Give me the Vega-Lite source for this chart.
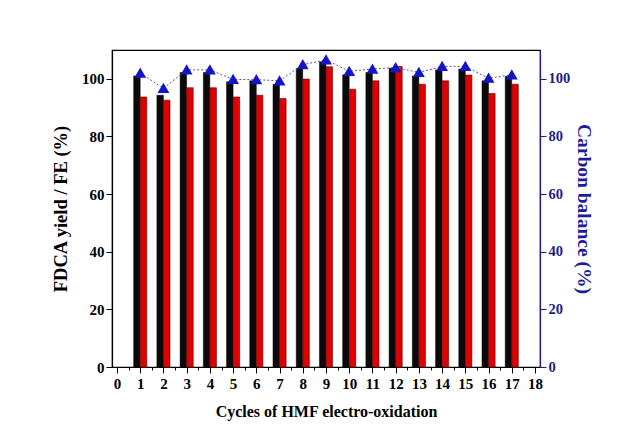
{
  "$schema": "https://vega.github.io/schema/vega-lite/v6.json",
  "width": 428,
  "height": 317,
  "autosize": {"type": "none"},
  "padding": {"left": 112, "top": 50, "right": 84, "bottom": 73},
  "background": "white",
  "config": {
    "view": {"stroke": "black", "strokeWidth": 1.2},
    "font": "Liberation Serif",
    "axis": {"labelFont": "Liberation Serif", "titleFont": "Liberation Serif", "labelFontWeight": "bold", "titleFontWeight": "bold", "labelFontSize": 15, "titleFontSize": 16, "grid": false, "domainWidth": 1.2, "tickWidth": 1}
  },
  "data": {"values": [
    {"cycle": 1, "yield": 101.0, "fe": 93.7, "cb": 102.0},
    {"cycle": 2, "yield": 94.3, "fe": 92.6, "cb": 96.7},
    {"cycle": 3, "yield": 102.2, "fe": 96.9, "cb": 103.1},
    {"cycle": 4, "yield": 102.2, "fe": 96.9, "cb": 103.1},
    {"cycle": 5, "yield": 99.0, "fe": 93.7, "cb": 99.8},
    {"cycle": 6, "yield": 99.3, "fe": 94.3, "cb": 99.7},
    {"cycle": 7, "yield": 98.1, "fe": 93.2, "cb": 99.3},
    {"cycle": 8, "yield": 103.6, "fe": 99.9, "cb": 104.9},
    {"cycle": 9, "yield": 105.9, "fe": 104.2, "cb": 106.6},
    {"cycle": 10, "yield": 101.4, "fe": 96.4, "cb": 102.6},
    {"cycle": 11, "yield": 102.2, "fe": 99.3, "cb": 103.4},
    {"cycle": 12, "yield": 103.7, "fe": 104.3, "cb": 103.9},
    {"cycle": 13, "yield": 101.0, "fe": 98.1, "cb": 102.2},
    {"cycle": 14, "yield": 103.1, "fe": 99.3, "cb": 104.3},
    {"cycle": 15, "yield": 103.4, "fe": 101.3, "cb": 104.3},
    {"cycle": 16, "yield": 99.3, "fe": 94.9, "cb": 100.2},
    {"cycle": 17, "yield": 100.8, "fe": 98.1, "cb": 101.4}
  ]},
  "encoding": {
    "x": {"field": "cycle", "type": "quantitative",
      "scale": {"domain": [0, 18], "nice": false, "zero": false},
      "axis": {"title": "Cycles of HMF electro-oxidation", "titlePadding": 12, "values": [0,0.5,1,1.5,2,2.5,3,3.5,4,4.5,5,5.5,6,6.5,7,7.5,8,8.5,9,9.5,10,10.5,11,11.5,12,12.5,13,13.5,14,14.5,15,15.5,16,16.5,17,17.5,18],
        "labelExpr": "datum.value % 1 == 0 ? format(datum.value, 'd') : ''", "labelFlush": false, "labelPadding": 3,
        "tickSize": {"condition": {"test": "datum.value % 1 == 0", "value": 6}, "value": 3},
        "domainColor": "black", "tickColor": "black", "labelColor": "black", "titleColor": "black"}
    }
  },
  "layer": [
    {
      "layer": [
        {
          "mark": {"type": "bar", "width": 6.5, "xOffset": -3.3, "fill": "#0a0a0a", "stroke": "#000000", "strokeWidth": 0.5},
          "encoding": {
            "y": {"field": "yield", "type": "quantitative",
              "scale": {"domain": [0, 110], "nice": false},
              "axis": {"title": "FDCA yield / FE (%)", "titleFontSize": 18.5, "values": [0,10,20,30,40,50,60,70,80,90,100,110], "labelExpr": "datum.value % 20 == 0 && datum.value <= 100 ? datum.label : ''",
                "tickSize": {"condition": {"test": "datum.value % 20 == 0", "value": 6}, "value": 3}, "titlePadding": 11,
                "domainColor": "black", "tickColor": "black", "labelColor": "black", "titleColor": "black"}}
          }
        },
        {
          "mark": {"type": "bar", "width": 6.5, "xOffset": 3.3, "fill": "#e00000", "stroke": "#5a0000", "strokeWidth": 0.6},
          "encoding": {
            "y": {"field": "fe", "type": "quantitative", "title": "FDCA yield / FE (%)"}
          }
        }
      ]
    },
    {
      "layer": [
        {
          "mark": {"type": "line", "stroke": "#5a5a90", "strokeDash": [2, 2], "strokeWidth": 1},
          "encoding": {"y": {"field": "cb", "type": "quantitative", "title": "Carbon balance (%)"}}
        },
        {
          "mark": {"type": "point", "shape": "triangle-up", "filled": true, "fill": "#1414c8", "stroke": "#1414c8", "opacity": 1, "size": 70},
          "encoding": {"y": {"field": "cb", "type": "quantitative",
            "scale": {"domain": [0, 110], "nice": false},
            "axis": {"orient": "right", "title": "Carbon balance (%)", "titleFontSize": 19.5, "labelFontSize": 14.5, "values": [0,10,20,30,40,50,60,70,80,90,100,110], "labelExpr": "datum.value % 20 == 0 && datum.value <= 100 ? datum.label : ''",
              "tickSize": {"condition": {"test": "datum.value % 20 == 0", "value": 6}, "value": 3}, "titlePadding": 4,
              "domainColor": "#1c1c9a", "tickColor": "#1c1c9a", "labelColor": "#1c1c8c", "titleColor": "#1c1c9a"}}}
        }
      ]
    }
  ],
  "resolve": {"scale": {"y": "independent"}}
}
